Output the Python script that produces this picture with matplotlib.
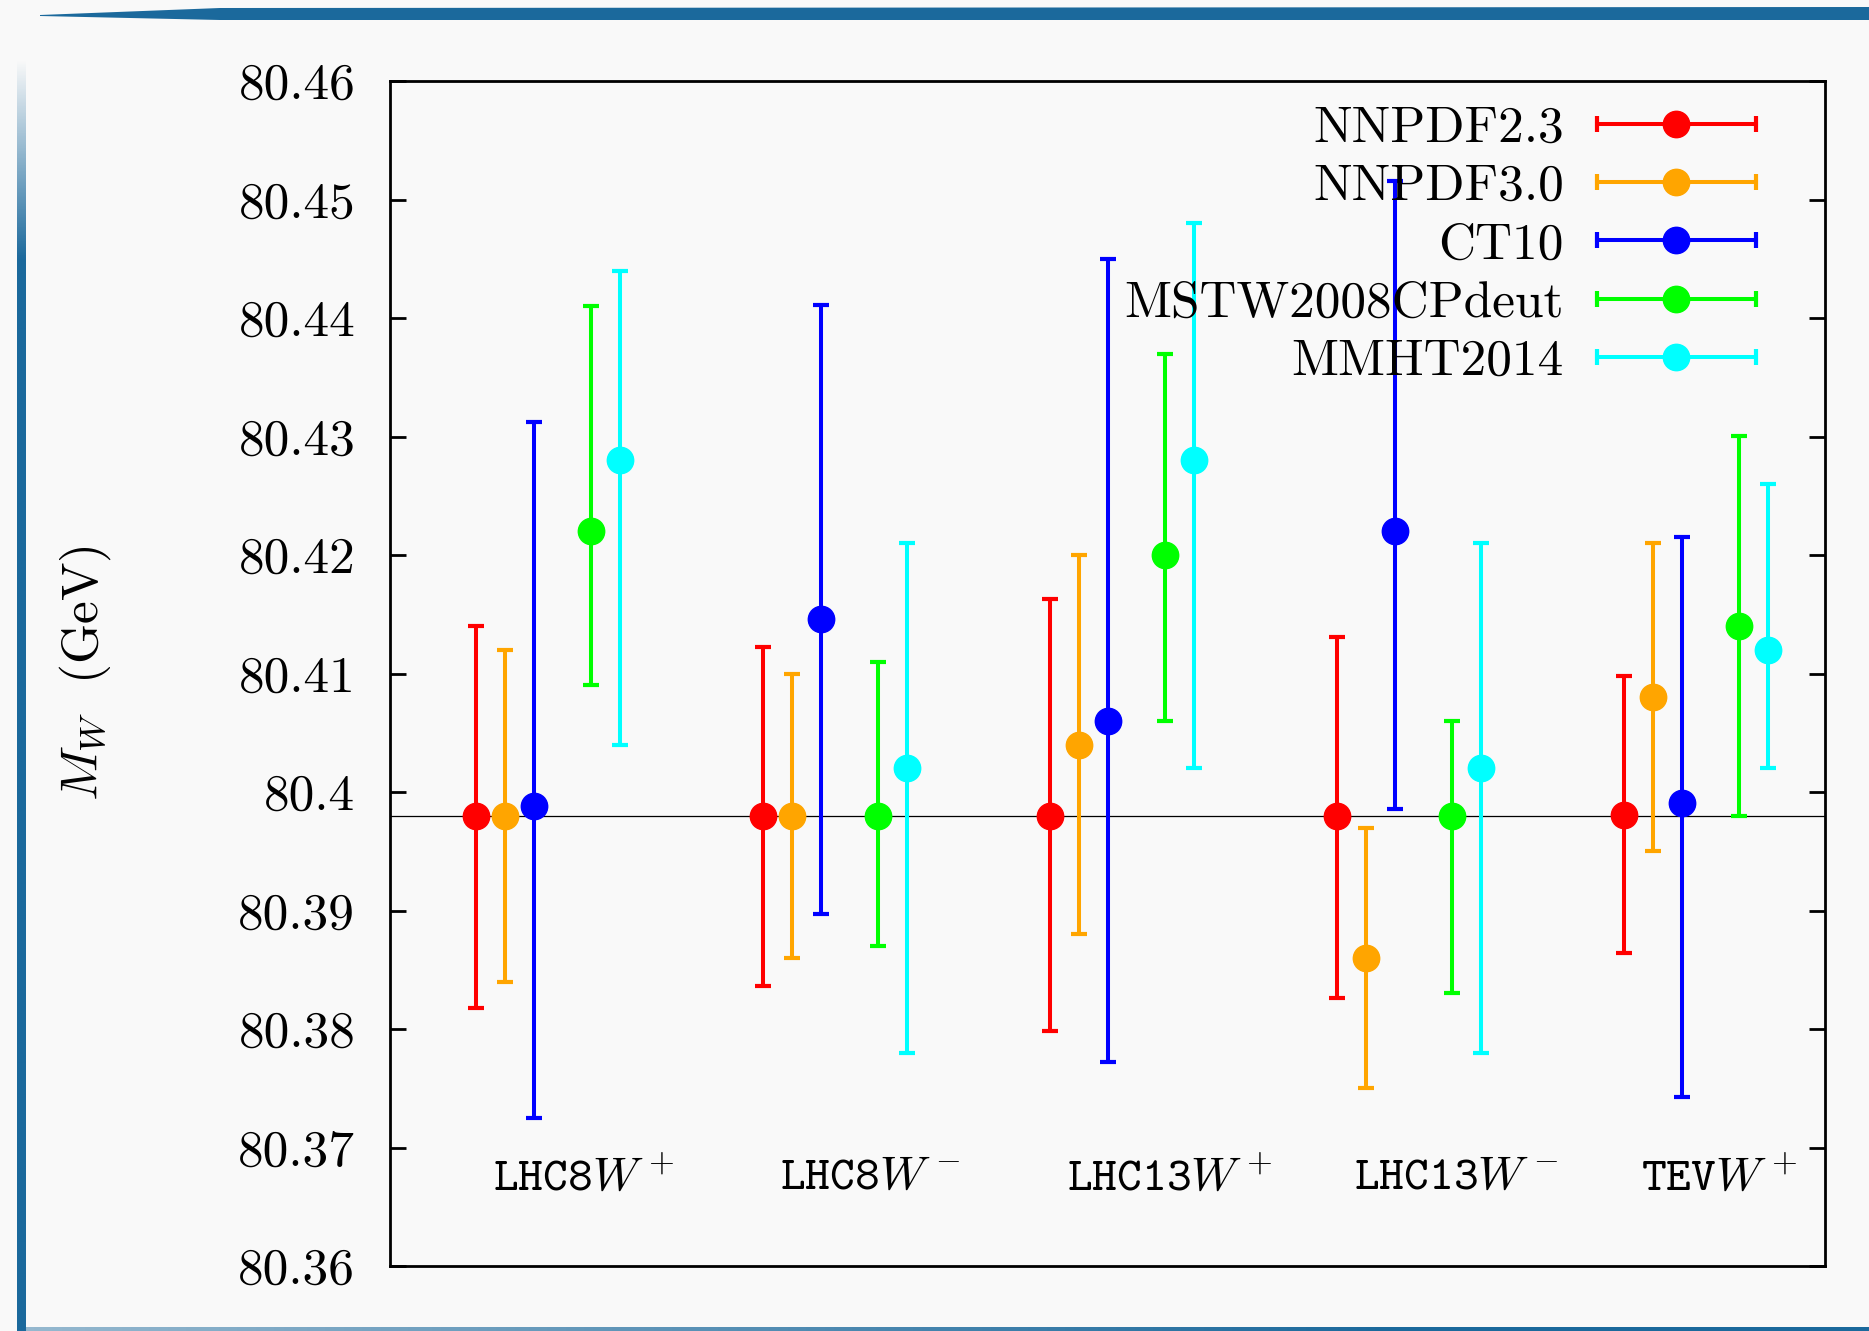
import numpy as np
import matplotlib
matplotlib.use('Agg')
import matplotlib.pyplot as plt
from matplotlib.lines import Line2D
from matplotlib.patches import Polygon
from matplotlib.container import ErrorbarContainer
from matplotlib.legend_handler import HandlerBase
from matplotlib.colors import to_rgb
from matplotlib.ticker import FormatStrFormatter, MultipleLocator, NullLocator

plt.rcParams['mathtext.fontset'] = 'cm'
plt.rcParams['font.family'] = 'cmr10'
plt.rcParams['axes.formatter.use_mathtext'] = True

# data: W mass fits for each process and PDF set (central, upper, lower)
processes = [r'LHC8$W^+$', r'LHC8$W^-$', r'LHC13$W^+$', r'LHC13$W^-$', r'TEV$W^+$']
pdfs = ['NNPDF2.3', 'NNPDF3.0', 'CT10', 'MSTW2008CPdeut', 'MMHT2014']
colors = ['#ff0000', '#ffa500', '#0000ff', '#00ff00', '#00ffff']
offsets = [0.3, 0.4, 0.5, 0.7, 0.8]
mw_ref = 80.398

nnpdf23_c = [80.398, 80.398, 80.398, 80.398, 80.3981]
nnpdf23_hi = [80.414, 80.4122, 80.4163, 80.4131, 80.4098]
nnpdf23_lo = [80.3818, 80.3836, 80.3798, 80.3826, 80.3864]

nnpdf30_c = [80.398, 80.398, 80.404, 80.386, 80.408]
nnpdf30_hi = [80.412, 80.410, 80.420, 80.397, 80.421]
nnpdf30_lo = [80.384, 80.386, 80.388, 80.375, 80.395]

ct10_c = [80.3988, 80.4146, 80.406, 80.422, 80.3991]
ct10_hi = [80.4312, 80.4411, 80.445, 80.4516, 80.4215]
ct10_lo = [80.3725, 80.3897, 80.3772, 80.3986, 80.3743]

mstw_c = [80.422, 80.398, 80.420, 80.398, 80.414]
mstw_hi = [80.441, 80.411, 80.437, 80.406, 80.430]
mstw_lo = [80.409, 80.387, 80.406, 80.383, 80.398]

mmht_c = [80.428, 80.402, 80.428, 80.402, 80.412]
mmht_hi = [80.444, 80.421, 80.448, 80.421, 80.426]
mmht_lo = [80.404, 80.378, 80.402, 80.378, 80.402]

series = [(nnpdf23_c, nnpdf23_hi, nnpdf23_lo),
          (nnpdf30_c, nnpdf30_hi, nnpdf30_lo),
          (ct10_c, ct10_hi, ct10_lo),
          (mstw_c, mstw_hi, mstw_lo),
          (mmht_c, mmht_hi, mmht_lo)]

MS, ELW, CAPT = 19, 2.9, 3.0


class HandlerHBar(HandlerBase):
    # gnuplot-like key: horizontal error bar with a dot in the middle
    def create_artists(self, legend, orig_handle, xdescent, ydescent,
                       width, height, fontsize, trans):
        c = orig_handle.lines[0].get_color()
        y = (height - ydescent) / 2
        x0, x1 = -xdescent, width - xdescent
        bar = Line2D([x0, x1], [y, y], color=c, lw=ELW)
        caps = Line2D([x0, x1], [y, y], color=c, ls='none', marker='|',
                      ms=12, mew=CAPT)
        dot = Line2D([(x0 + x1) / 2], [y], color=c, ls='none', marker='o',
                     ms=MS)
        for a in (bar, caps, dot):
            a.set_transform(trans)
        return [bar, caps, dot]


bg = '#f9f9f9'
fig = plt.figure(figsize=(18.69, 13.31), dpi=100, facecolor=bg)
W, H = 1869.0, 1331.0
ax = fig.add_axes([390 / W, 1 - 1266 / H, 1435 / W, 1185 / H], facecolor=bg)

groups = np.arange(len(processes))
handles = []
for k, (c, hi, lo) in enumerate(series):
    c = np.array(c)
    err = [c - np.array(lo), np.array(hi) - c]
    h = ax.errorbar(groups + offsets[k], c, yerr=err, fmt='o', color=colors[k],
                    ms=MS, elinewidth=ELW, capsize=6, capthick=CAPT,
                    label=pdfs[k], zorder=3)
    handles.append(h)

ax.axhline(mw_ref, color='black', lw=0.9, zorder=2)

for i, p in enumerate(processes):
    ax.text(i + 0.36, 80.3665, p, fontsize=34, family='cmtt10',
            ha='left', va='baseline')

ax.set_xlim(0, 5)
ax.set_ylim(80.36, 80.46)
ax.xaxis.set_major_locator(NullLocator())
ax.yaxis.set_major_locator(MultipleLocator(0.01))
ax.yaxis.set_major_formatter(FormatStrFormatter('%g'))
ax.tick_params(axis='y', direction='in', left=True, right=True,
               length=11.5, width=2, labelsize=37, pad=25)
for s in ax.spines.values():
    s.set_linewidth(2)

ax.set_ylabel(r'$M_W\ \ $(GeV)', fontsize=37)
ax.yaxis.set_label_coords(-0.193, 0.5)

ax.legend(handles=handles, handler_map={ErrorbarContainer: HandlerHBar()},
          loc='upper right', bbox_to_anchor=(0.952, 0.979), frameon=False,
          markerfirst=False, fontsize=37, handlelength=3.1,
          handletextpad=0.64, labelspacing=0.24, borderpad=0,
          borderaxespad=0)

# slide-style frame around the figure
blue = '#1b699c'
def px(x, y):
    return (x / W, 1 - y / H)

top_bar = Polygon([px(40, 15), px(220, 8), px(W, 7), px(W, 20), px(220, 20), px(40, 16)],
                  closed=True, transform=fig.transFigure, color=blue, lw=0)
fig.add_artist(top_bar)

# left bar: fades in from the top
strip = fig.add_axes([17 / W, 0, 8 / W, 1 - 60 / H])
strip.set_axis_off()
rgb = np.array(to_rgb(blue))
alpha = np.clip(np.linspace(0, 1.6, 300), 0, 1)
alpha = np.concatenate([alpha, np.ones(900)])
img = np.zeros((alpha.size, 1, 4))
img[:, 0, :3] = rgb
img[:, 0, 3] = alpha
strip.imshow(img, aspect='auto', extent=(0, 1, 0, 1), origin='upper')

# bottom bar: light on the left, darker to the right
bstrip = fig.add_axes([20 / W, 0, 1 - 20 / W, 4 / H])
bstrip.set_axis_off()
balpha = np.clip(np.linspace(0.45, 1.2, 400), 0, 1)
bimg = np.zeros((1, balpha.size, 4))
bimg[0, :, :3] = rgb
bimg[0, :, 3] = balpha
bstrip.imshow(bimg, aspect='auto', extent=(0, 1, 0, 1))

fig.savefig('out.png', dpi=100, facecolor=bg)
